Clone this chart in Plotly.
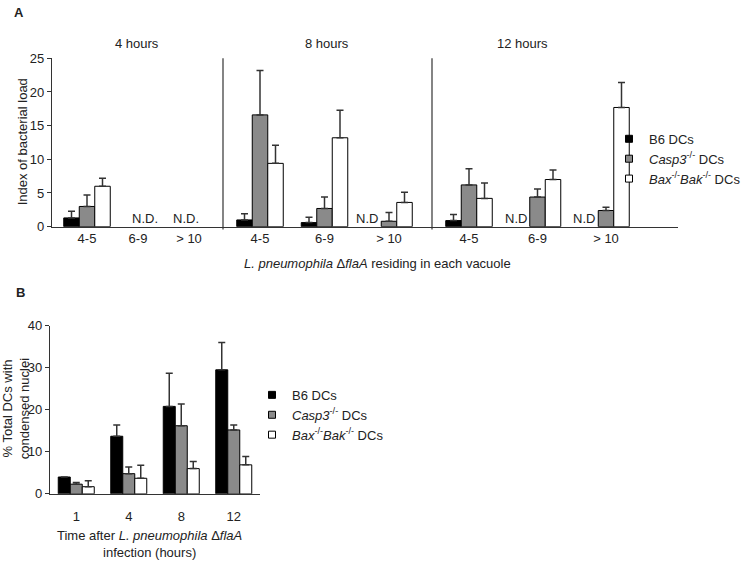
import plotly.graph_objects as go

W, H = 752, 570

# ---------------- data: panel A (index of bacterial load) ----------------
a_bins = ["4-5", "6-9", "> 10"]
a_times = ["4 hours", "8 hours", "12 hours"]
# rows = time point (4 h, 8 h, 12 h), columns = bins
a_b6 = [[1.3, None, None], [1.0, 0.6, None], [0.9, None, None]]
a_b6_err = [[1.0, None, None], [0.9, 0.8, None], [0.9, None, None]]
a_casp = [[3.0, None, None], [16.6, 2.7, 0.8], [6.2, 4.4, 2.4]]
a_casp_err = [[1.7, None, None], [6.6, 1.7, 1.3], [2.4, 1.2, 0.5]]
a_bax = [[6.0, None, None], [9.4, 13.2, 3.6], [4.2, 7.0, 17.7]]
a_bax_err = [[1.2, None, None], [2.7, 4.1, 1.5], [2.3, 1.4, 3.7]]
# not-determined labels: (time index, bin index, label)
a_nd = [(0, 1, "N.D."), (0, 2, "N.D."), (1, 2, "N.D"), (2, 1, "N.D"), (2, 2, "N.D")]

# ---------------- data: panel B (% DCs with condensed nuclei) ----------------
b_times = ["1", "4", "8", "12"]
b_b6 = [4.0, 13.7, 20.8, 29.5]
b_b6_err = [0.0, 2.7, 7.9, 6.5]
b_casp = [2.3, 4.8, 16.2, 15.2]
b_casp_err = [0.4, 1.6, 5.2, 1.2]
b_bax = [1.7, 3.7, 6.0, 6.9]
b_bax_err = [1.4, 3.1, 1.7, 2.0]

series_names = ["B6 DCs", "<i>Casp3</i><sup>-/-</sup> DCs",
                "<i>Bax</i><sup>-/-</sup><i>Bak</i><sup>-/-</sup> DCs"]
series_colors = ["#000000", "#8a8a8a", "#ffffff"]

# ---------------- layout geometry (pixels) ----------------
FONT = "Liberation Sans, Arial, sans-serif"
TXT = "#222222"
AX = "#333333"

def fx(p):
    return p / W

def fy(p):
    return 1 - p / H

A_top, A_base = 52.7, 225.6
A_edges = [52, 223, 432, 678]
A_first = [35, 37, 37]        # px from panel left edge to first cluster centre
A_step = [51, 64.5, 68.5]     # px between cluster centres
A_bar = 15.5
ND_shift_g1 = {1: 7, 2: -3}

B_top, B_base = 327.3, 500
B_left, B_right = 50, 260
B_bar = 12

fig = go.Figure()

def add_bars(xs, vals, errs, name_i, xaxis, yaxis, bw):
    fig.add_trace(go.Bar(
        x=xs, y=vals, width=bw, offset=(-1.5 + name_i) * bw,
        marker=dict(color=series_colors[name_i], line=dict(color="#000", width=1)),
        error_y=dict(type="data", symmetric=False,
                     array=errs, arrayminus=[0 if e is not None else None for e in errs],
                     color=AX, thickness=1.5, width=3.5),
        xaxis=xaxis, yaxis=yaxis, showlegend=False, hoverinfo="skip"))

layout_axes = {}
annotations = []
for g in range(3):
    xa = "x" if g == 0 else f"x{g + 1}"
    width_px = A_edges[g + 1] - A_edges[g]
    s = A_step[g]
    bw = A_bar / s
    for i, (vals, errs) in enumerate([(a_b6, a_b6_err), (a_casp, a_casp_err), (a_bax, a_bax_err)]):
        add_bars(a_bins, vals[g], errs[g], i, xa, "y", bw)
    key = "xaxis" if g == 0 else f"xaxis{g + 1}"
    layout_axes[key] = dict(
        domain=[fx(A_edges[g]), fx(A_edges[g + 1])], anchor="y",
        type="category", categoryorder="array", categoryarray=a_bins,
        range=[-A_first[g] / s, (width_px - A_first[g]) / s],
        showline=True, linecolor=AX, linewidth=1.2, ticks="", showgrid=False,
        zeroline=False, tickfont=dict(size=13, color=TXT, family=FONT),
        ticklabelstandoff=0, fixedrange=True)
    annotations.append(dict(text=a_times[g], xref="paper", yref="paper",
                            x=fx([137, 327, 522][g]), y=fy(38), showarrow=False,
                            font=dict(size=13, color=TXT), xanchor="center", yanchor="middle"))

# N.D. labels
for (g, b, lab) in a_nd:
    xa = "x" if g == 0 else f"x{g + 1}"
    if g == 0:
        annotations.append(dict(text=lab, x=a_bins[b], y=0, xref=xa, yref="y",
                                showarrow=False, xanchor="center", yanchor="bottom",
                                xshift=ND_shift_g1[b], yshift=-1, font=dict(size=13, color=TXT)))
    else:
        annotations.append(dict(text=lab, x=a_bins[b], y=0, xref=xa, yref="y",
                                showarrow=False, xanchor="right", yanchor="bottom",
                                xshift=-A_bar * 0.5 - 1, yshift=-1, font=dict(size=13, color=TXT)))

layout_axes["yaxis"] = dict(
    domain=[fy(A_base), fy(A_top)], anchor="x", range=[0, 25],
    tickvals=[0, 5, 10, 15, 20, 25], ticks="outside", ticklen=4, tickcolor=AX,
    showline=True, linecolor=AX, linewidth=1.2, showgrid=False, zeroline=False,
    tickfont=dict(size=13, color=TXT), fixedrange=True)

# panel B
sB = (B_right - B_left) / len(b_times)
bwB = B_bar / sB
for i, (vals, errs) in enumerate([(b_b6, b_b6_err), (b_casp, b_casp_err), (b_bax, b_bax_err)]):
    add_bars(b_times, vals, errs, i, "x4", "y2", bwB)
layout_axes["xaxis4"] = dict(
    domain=[fx(B_left), fx(B_right)], anchor="y2", type="category",
    categoryorder="array", categoryarray=b_times,
    range=[-0.5, len(b_times) - 0.5], showline=True, linecolor=AX, linewidth=1.2,
    ticks="", showgrid=False, zeroline=False, tickfont=dict(size=13, color=TXT),
    ticklabelstandoff=10, fixedrange=True)
layout_axes["yaxis2"] = dict(
    domain=[fy(B_base), fy(B_top)], anchor="x4", range=[0, 40],
    tickvals=[0, 10, 20, 30, 40], ticks="outside", ticklen=4, tickcolor=AX,
    showline=True, linecolor=AX, linewidth=1.2, showgrid=False, zeroline=False,
    tickfont=dict(size=13, color=TXT), fixedrange=True)

# legend entries (dummy marker traces)
for leg, xa, ya in [("legend", "x", "y"), ("legend2", "x4", "y2")]:
    for i in range(3):
        fig.add_trace(go.Scatter(
            x=[None], y=[None], mode="markers", name=series_names[i],
            marker=dict(symbol="square", size=7, color=series_colors[i],
                        line=dict(color="#000", width=1)),
            xaxis=xa, yaxis=ya, legend=leg, showlegend=True, hoverinfo="skip"))

annotations += [
    dict(text="<b>A</b>", x=fx(19), y=fy(6), xref="paper", yref="paper", showarrow=False,
         font=dict(size=13, color=TXT), xanchor="center", yanchor="middle"),
    dict(text="<b>B</b>", x=fx(20), y=fy(293), xref="paper", yref="paper", showarrow=False,
         font=dict(size=13, color=TXT), xanchor="center", yanchor="middle"),
    dict(text="Index of bacterial load", x=fx(22), y=fy(139), xref="paper", yref="paper",
         showarrow=False, textangle=-90, font=dict(size=13, color=TXT),
         xanchor="center", yanchor="middle"),
    dict(text="<i>L. pneumophila</i> Δ<i>flaA</i> residing in each vacuole",
         x=fx(377), y=fy(263), xref="paper", yref="paper", showarrow=False,
         font=dict(size=13, color=TXT), xanchor="center", yanchor="middle"),
    dict(text="% Total DCs with<br>condensed nuclei", x=fx(16), y=fy(413),
         xref="paper", yref="paper", showarrow=False, textangle=-90,
         font=dict(size=13, color=TXT), xanchor="center", yanchor="middle"),
    dict(text="Time after <i>L. pneumophila</i> Δ<i>flaA</i><br>infection (hours)",
         x=fx(149), y=fy(552), xref="paper", yref="paper", showarrow=False,
         font=dict(size=13, color=TXT), xanchor="center", yanchor="middle"),
]

shapes = []
for e in A_edges[1:3]:
    shapes.append(dict(type="line", xref="paper", yref="paper",
                       x0=fx(e), x1=fx(e), y0=fy(A_top), y1=fy(A_base + 3),
                       line=dict(color=AX, width=1.2)))

fig.update_layout(
    width=W, height=H, margin=dict(l=0, r=0, t=0, b=0),
    paper_bgcolor="white", plot_bgcolor="white",
    font=dict(family=FONT, size=13, color=TXT),
    barmode="overlay", showlegend=True,
    legend=dict(x=fx(609), y=fy(120), xanchor="left", yanchor="top",
                bgcolor="rgba(0,0,0,0)", font=dict(size=13, color=TXT),
                itemwidth=30, tracegroupgap=0),
    legend2=dict(x=fx(252), y=fy(383), xanchor="left", yanchor="top",
                 bgcolor="rgba(0,0,0,0)", font=dict(size=13, color=TXT),
                 itemwidth=30, tracegroupgap=0),
    annotations=annotations, shapes=shapes,
    **layout_axes)

fig.write_html("out.html")
